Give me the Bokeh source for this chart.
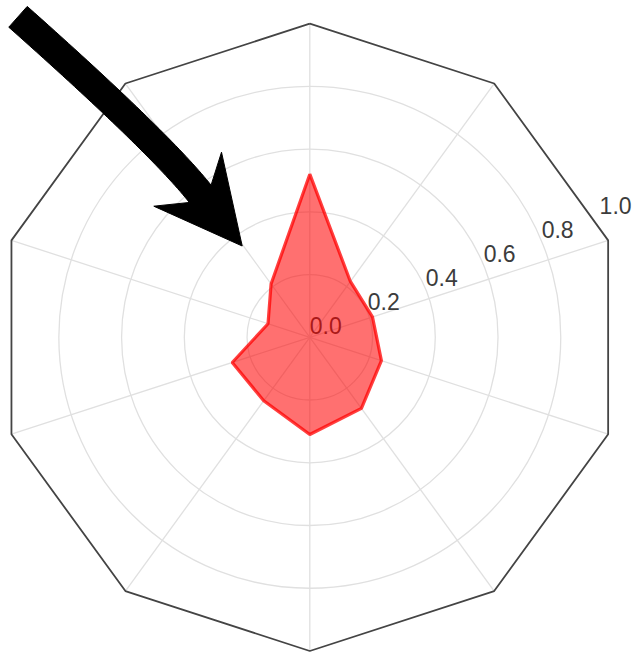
import numpy as np
from bokeh.plotting import figure
from bokeh.models import Range1d
from bokeh.embed import file_html
from bokeh.resources import INLINE
from bokeh.core.properties import value

# ---------------- data ----------------
categories = ["c1", "c2", "c3", "c4", "c5", "c6", "c7", "c8", "c9", "c10"]
values = [0.52, 0.22, 0.21, 0.24, 0.28, 0.31, 0.25, 0.26, 0.14, 0.21]
radial_ticks = [0.0, 0.2, 0.4, 0.6, 0.8, 1.0]
tick_labels = ["0.0", "0.2", "0.4", "0.6", "0.8", "1.0"]
grid_radii = [0.2, 0.4, 0.6, 0.8]
r_max = 1.0

# ---------------- layout ----------------
W, H = 636, 652
R_PX = 313.7              # pixels per radial unit
CX, CY = 309.3, 336.8     # polar centre inside the canvas (px from top-left)
TICK_ANGLE = np.deg2rad(22.5)

p = figure(width=W, height=H, output_backend="svg", toolbar_location=None,
           x_range=Range1d(-CX / R_PX, (W - CX) / R_PX),
           y_range=Range1d(-(H - CY) / R_PX, CY / R_PX),
           min_border=0, background_fill_color="white", border_fill_color="white")
p.axis.visible = False
p.grid.visible = False
p.outline_line_color = None

n = len(categories)
theta = np.deg2rad(90 - 360.0 / n * np.arange(n))

# grid circles
p.circle(x=[0] * len(grid_radii), y=[0] * len(grid_radii), radius=grid_radii,
         fill_color=None, line_color="#e0e0e0", line_width=1.3)
# spokes
p.segment(x0=np.zeros(n), y0=np.zeros(n), x1=r_max * np.cos(theta), y1=r_max * np.sin(theta),
          line_color="#e0e0e0", line_width=1.3)
# outer decagon
ox = list(r_max * np.cos(theta)) + [r_max * np.cos(theta[0])]
oy = list(r_max * np.sin(theta)) + [r_max * np.sin(theta[0])]
p.line(ox, oy, line_color="#444444", line_width=1.8)

# radial tick labels
rt = np.array(radial_ticks)
p.text(x=rt * np.cos(TICK_ANGLE), y=rt * np.sin(TICK_ANGLE) + 11.5 / R_PX, text=tick_labels,
       text_font=value("Liberation Sans"), text_font_size="23px", text_color="#3c3c3c",
       text_align="left", text_baseline="alphabetic")

# data polygon
v = np.array(values)
p.patch(list(v * np.cos(theta)), list(v * np.sin(theta)),
        fill_color="red", fill_alpha=0.56, line_color="red", line_alpha=0.75, line_width=3.2)

# ---------------- arrow annotation (canvas pixel geometry) ----------------
ARROW_P0 = np.array([17.5, 16.3])
ARROW_P1 = np.array([158.9, 141.9])
ARROW_P2 = np.array([199.7, 193.3])
ARROW_HALF_W = 13.9
ARROW_UPPER_BARB = (221.0, 151.7)
ARROW_TIP = (241.7, 245.5)
ARROW_LOWER_BARB = (153.3, 205.7)

t = np.linspace(0, 1, 40)[:, None]
curve = (1 - t) ** 2 * ARROW_P0 + 2 * (1 - t) * t * ARROW_P1 + t ** 2 * ARROW_P2
deriv = 2 * (1 - t) * (ARROW_P1 - ARROW_P0) + 2 * t * (ARROW_P2 - ARROW_P1)
deriv = deriv / np.linalg.norm(deriv, axis=1, keepdims=True)
normal = np.column_stack([deriv[:, 1], -deriv[:, 0]])
upper = curve + normal * ARROW_HALF_W
lower = curve - normal * ARROW_HALF_W
pts = np.vstack([upper, [ARROW_UPPER_BARB, ARROW_TIP, ARROW_LOWER_BARB], lower[::-1]])


def to_data(px, py):
    return (px - CX) / R_PX, (CY - py) / R_PX


ax, ay = to_data(pts[:, 0], pts[:, 1])
p.patch(list(ax), list(ay), fill_color="black", line_color="black", line_width=1)

open("out.html", "w").write(file_html(p, INLINE))
